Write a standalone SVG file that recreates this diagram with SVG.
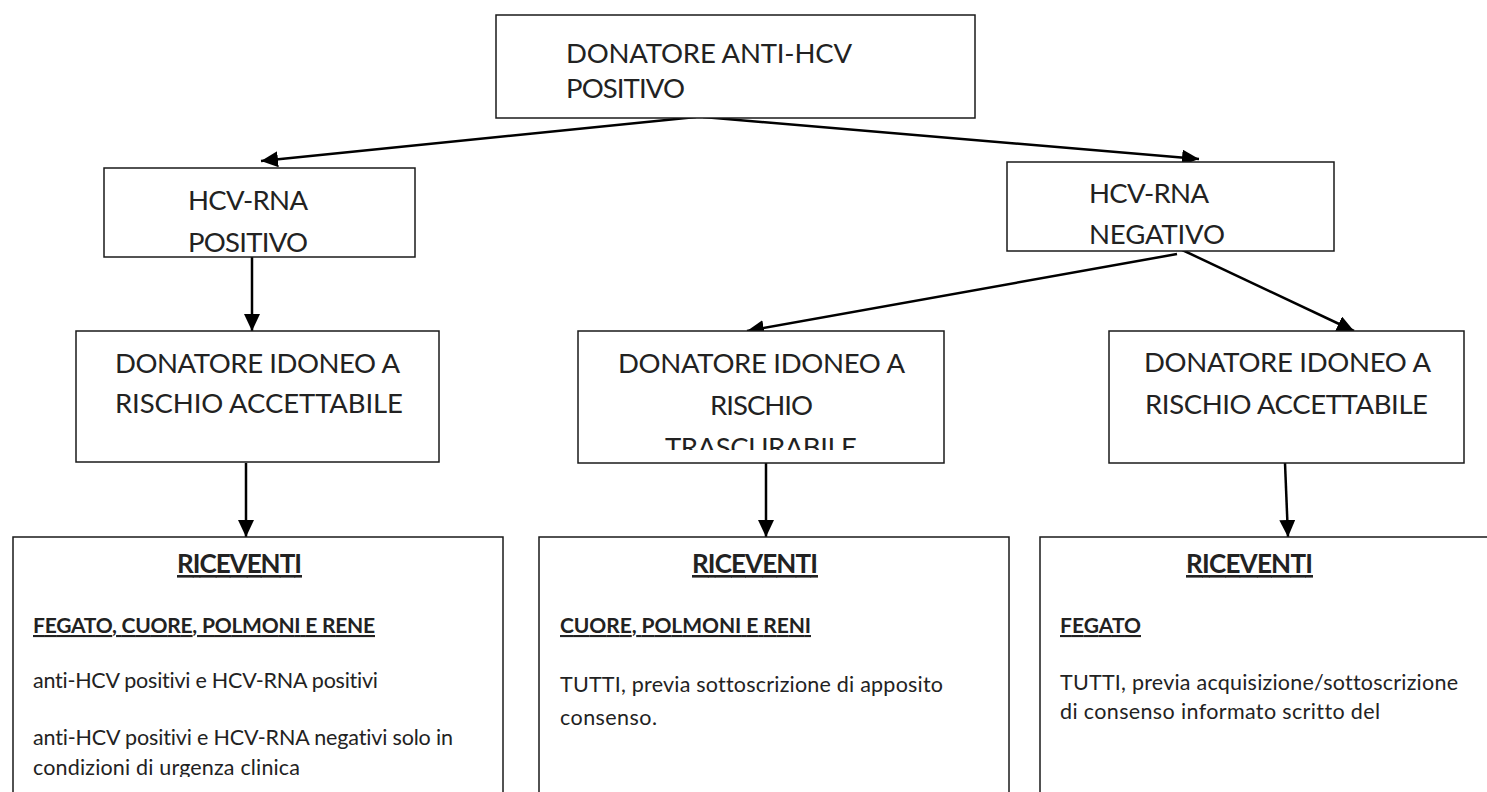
<svg xmlns="http://www.w3.org/2000/svg" width="1487" height="792" viewBox="0 0 1487 792">
<style>
text{font-variant-ligatures:none;font-family:Lato,"Liberation Sans",sans-serif;fill:#222}
.box{fill:#fff;stroke:#1a1a1a;stroke-width:1.5}
.big{font-size:27.5px}
.hd{font-size:26px;font-weight:bold;text-decoration:underline}
.sub{font-size:21px;font-weight:bold;text-decoration:underline}
.txt{font-size:21.5px}
.conn{stroke:#000;stroke-width:2.5;fill:none;marker-end:url(#ah)}
</style>
<defs>
<marker id="ah" markerUnits="userSpaceOnUse" markerWidth="17" markerHeight="16" refX="17" refY="8" orient="auto" viewBox="0 0 17 16">
<path d="M0,0 L17,8 L0,16 z" fill="#000"/>
</marker>
<clipPath id="clipMid"><rect x="578" y="331" width="366" height="119"/></clipPath>
<clipPath id="clipLeftBot"><rect x="13" y="537" width="490" height="240"/></clipPath>
</defs>
<rect width="1487" height="792" fill="#fff"/>

<g id="connectors">
<line class="conn" x1="696" y1="117" x2="261" y2="161"/>
<line class="conn" x1="703" y1="117" x2="1199" y2="159"/>
<line class="conn" x1="252" y1="257" x2="252" y2="331"/>
<line class="conn" x1="1177" y1="254" x2="747" y2="331"/>
<line class="conn" x1="1178" y1="248" x2="1354" y2="331"/>
<line class="conn" x1="246" y1="463" x2="246" y2="537"/>
<line class="conn" x1="766" y1="463" x2="766" y2="537"/>
<line class="conn" x1="1285" y1="463" x2="1288" y2="537"/>
</g>

<g id="n-top">
<rect class="box" x="496" y="15" width="479" height="103"/>
<text class="big" x="566" y="63" textLength="286">DONATORE ANTI-HCV</text>
<text class="big" x="566" y="98" textLength="119">POSITIVO</text>
</g>

<g id="n-rna-pos">
<rect class="box" x="104" y="168" width="311" height="89"/>
<text class="big" x="188" y="210" textLength="120">HCV-RNA</text>
<text class="big" x="188" y="252" textLength="120">POSITIVO</text>
</g>

<g id="n-rna-neg">
<rect class="box" x="1007" y="162" width="327" height="89"/>
<text class="big" x="1089" y="203" textLength="120">HCV-RNA</text>
<text class="big" x="1089" y="244" textLength="136">NEGATIVO</text>
</g>

<g id="n-idoneo-left">
<rect class="box" x="76" y="331" width="363" height="131"/>
<text class="big" x="115" y="373" textLength="285">DONATORE IDONEO A</text>
<text class="big" x="115" y="413" textLength="288">RISCHIO ACCETTABILE</text>
</g>

<g id="n-idoneo-mid">
<rect class="box" x="578" y="331" width="366" height="132"/>
<g clip-path="url(#clipMid)">
<text class="big" x="618" y="373" textLength="287">DONATORE IDONEO A</text>
<text class="big" x="710" y="415" textLength="103">RISCHIO</text>
<text class="big" x="665" y="457" textLength="192">TRASCURABILE</text>
</g>
</g>

<g id="n-idoneo-right">
<rect class="box" x="1109" y="331" width="355" height="132"/>
<text class="big" x="1144" y="372" textLength="287">DONATORE IDONEO A</text>
<text class="big" x="1145" y="414" textLength="283">RISCHIO ACCETTABILE</text>
</g>

<g id="n-riceventi-left">
<rect class="box" x="13" y="537" width="490" height="300"/>
<g clip-path="url(#clipLeftBot)">
<text class="hd" x="177" y="573" textLength="125">RICEVENTI</text>
<text class="sub" x="33" y="633" textLength="342">FEGATO, CUORE, POLMONI E RENE</text>
<text class="txt" x="33" y="688" textLength="345">anti-HCV positivi e HCV-RNA positivi</text>
<text class="txt" x="33" y="745" textLength="420">anti-HCV positivi e HCV-RNA negativi solo in</text>
<text class="txt" x="33" y="775" textLength="267">condizioni di urgenza clinica</text>
</g>
</g>

<g id="n-riceventi-mid">
<rect class="box" x="539" y="537" width="470" height="300"/>
<text class="hd" x="692" y="573" textLength="126">RICEVENTI</text>
<text class="sub" x="560" y="633" textLength="251">CUORE, POLMONI E RENI</text>
<text class="txt" x="560" y="692" textLength="383">TUTTI, previa sottoscrizione di apposito</text>
<text class="txt" x="560" y="725" textLength="97">consenso.</text>
</g>

<g id="n-riceventi-right">
<rect class="box" x="1040" y="537" width="500" height="300"/>
<text class="hd" x="1186" y="573" textLength="127">RICEVENTI</text>
<text class="sub" x="1060" y="633" textLength="81">FEGATO</text>
<text class="txt" x="1060" y="690" textLength="398">TUTTI, previa acquisizione/sottoscrizione</text>
<text class="txt" x="1060" y="719" textLength="320">di consenso informato scritto del</text>
</g>
</svg>
